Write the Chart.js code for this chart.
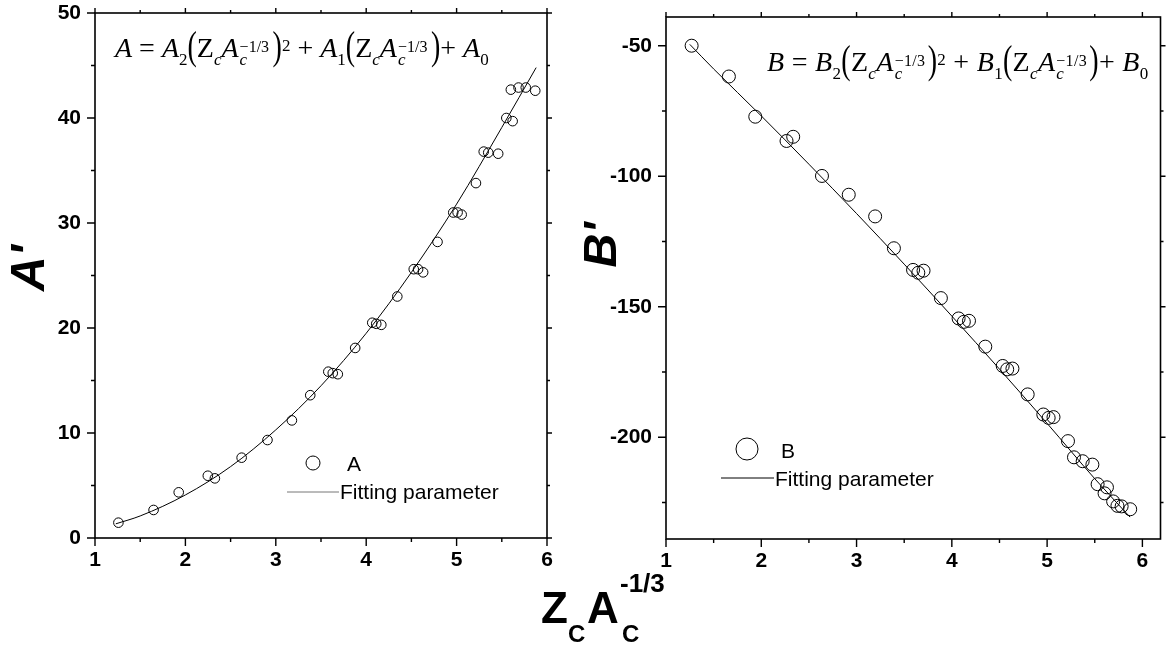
<!DOCTYPE html>
<html>
<head>
<meta charset="utf-8">
<script src="https://cdn.jsdelivr.net/npm/chart.js@4.4.0/dist/chart.umd.min.js"></script>
<style>
  body { margin: 0; background: #fff; width: 1168px; height: 651px; overflow: hidden; position: relative; }
  canvas { position: absolute; left: 0; top: 0; }
  .eq { position: absolute; z-index: 2; font-family: "Times New Roman", "Liberation Serif", serif; font-size: 28px; line-height: 28px; white-space: nowrap; color: #000; }
  .eq .sb { font-size: 17px; line-height: 0; position: relative; top: 8px; }
  .eq .sp { font-size: 17px; line-height: 0; position: relative; top: -6px; }
  .eq .pr { display: inline-block; transform: scaleY(1.42); transform-origin: 50% 62%; }
  .eq .ss { display: inline-block; position: relative; width: 34px; height: 1px; }
  .eq .ss .u { position: absolute; left: 1px; top: -17px; font-size: 16px; line-height: 16px; }
  .eq .ss .d { position: absolute; left: 1px; top: -5px; font-size: 17px; line-height: 17px; }
  #eqB { letter-spacing: 0.3px; }
  .xt { position: absolute; z-index: 2; font-family: Arial, "Liberation Sans", sans-serif; font-weight: bold; line-height: 1; color: #000; white-space: nowrap; }
</style>
</head>
<body>
<canvas id="chartA" width="1168" height="651"></canvas>
<canvas id="chartB" width="1168" height="651"></canvas>
<div class="eq" id="eqA" style="left:115px; top:34px;"></div>
<div class="eq" id="eqB" style="left:767px; top:48px;"></div>
<span class="xt" style="left:541px; top:586px; font-size:44px;">Z</span>
<span class="xt" style="left:568px; top:622px; font-size:24px;">C</span>
<span class="xt" style="left:587px; top:586px; font-size:44px;">A</span>
<span class="xt" style="left:622px; top:622px; font-size:24px;">C</span>
<span class="xt" style="left:620px; top:570px; font-size:26px;">-1/3</span>
<script>
// ZcAc^-1/3 значения (x) ба A', B' утгууд
const zA = [1.259, 1.648, 1.926, 2.248, 2.326, 2.622, 2.908, 3.178, 3.381, 3.581, 3.63, 3.686, 3.878,
            4.067, 4.111, 4.167, 4.344, 4.526, 4.574, 4.63, 4.789, 4.963, 5.011, 5.056, 5.214,
            5.30, 5.35, 5.46, 5.55, 5.62, 5.60, 5.685, 5.765, 5.87];
const valuesA = [1.46, 2.67, 4.35, 5.93, 5.68, 7.65, 9.33, 11.2, 13.6, 15.84, 15.7, 15.6, 18.1,
            20.5, 20.4, 20.3, 23.0, 25.6, 25.6, 25.3, 28.2, 31.0, 31.0, 30.8, 33.8,
            36.8, 36.7, 36.6, 40.0, 39.7, 42.7, 42.9, 42.9, 42.6];

const zB = [1.269, 1.66, 1.937, 2.265, 2.335, 2.637, 2.918, 3.195, 3.392, 3.593, 3.648, 3.703, 3.885,
            4.071, 4.126, 4.18, 4.351, 4.534, 4.581, 4.636, 4.796, 4.96, 5.016, 5.067, 5.219,
            5.282, 5.373, 5.475, 5.53, 5.628, 5.603, 5.693, 5.738, 5.782, 5.872];
const valuesB = [-50.0, -61.8, -77.2, -86.5, -84.9, -99.9, -107.1, -115.4, -127.6, -135.9, -137.0, -136.2, -146.7,
            -154.5, -155.8, -155.4, -165.3, -172.7, -174.0, -173.7, -183.6, -191.3, -192.6, -192.3, -201.5,
            -207.7, -209.2, -210.5, -218.0, -219.2, -221.5, -224.6, -226.3, -226.5, -227.6];

// Fitting шугам (зурагнаас уншсан)
const fitZA = [1.23, 1.5, 2, 2.5, 3, 3.5, 4, 4.5, 5, 5.5, 5.88];
const fitA = [1.35, 2.1, 4.1, 6.8, 10.3, 14.5, 19.5, 25.3, 31.8, 39.1, 44.8];
const fitZB = [1.25, 1.5, 2, 2.5, 3, 3.5, 4, 4.5, 5, 5.5, 5.87];
const fitB = [-49.5, -58.9, -76.9, -95.4, -114.3, -133.7, -153.6, -173.9, -194.7, -215.9, -230.6];

// Тэнхлэгийн tick-үүд
const xTicks = [1, 2, 3, 4, 5, 6];
const yTicksA = [0, 10, 20, 30, 40, 50];
const yTicksB = [-200, -150, -100, -50];

const pairs = (xs, ys) => xs.map((x, i) => ({ x, y: ys[i] }));

// Формулын текст
function eqHTML(L) {
    const zc = 'Z<span class="sb"><i>c</i></span><i>A</i><span class="ss"><span class="u">&minus;1/3</span><span class="d"><i>c</i></span></span>';
    return `<i>${L}</i> = <i>${L}</i><span class="sb">2</span><span class="pr">(</span>${zc}<span class="pr">)</span><span class="sp">2</span> + ` +
           `<i>${L}</i><span class="sb">1</span><span class="pr">(</span>${zc}<span class="pr">)</span>+ <i>${L}</i><span class="sb">0</span>`;
}
document.getElementById('eqA').innerHTML = eqHTML('A');
document.getElementById('eqB').innerHTML = eqHTML('B');

// Хүрээ, жижиг tick, тэнхлэгийн нэр, legend зурах plugin
const framePlugin = {
    id: 'frame',
    afterDraw(chart, args, o) {
        const { ctx, chartArea: a } = chart;
        const xs = chart.scales.x, ys = chart.scales.y;
        ctx.save();
        ctx.strokeStyle = '#000';
        ctx.lineWidth = 1.6;
        ctx.strokeRect(a.left, a.top, a.right - a.left, a.bottom - a.top);

        const withMinor = (arr, s) => {
            const step = arr[1] - arr[0];
            const out = [];
            for (let v = arr[0] - step / 2; v <= s.max + 1e-9; v += step / 2) {
                if (v >= s.min - 1e-9) out.push({ v, major: arr.some(m => Math.abs(m - v) < 1e-6) });
            }
            return out;
        };
        ctx.lineWidth = 1.4;
        ctx.beginPath();
        withMinor(o.xTicks, xs).forEach(t => {
            const px = xs.getPixelForValue(t.v);
            const len = t.major ? 8 : 4;
            ctx.moveTo(px, a.bottom); ctx.lineTo(px, a.bottom + len);
            ctx.moveTo(px, a.top); ctx.lineTo(px, a.top - (t.major ? 5 : 3));
        });
        withMinor(o.yTicks, ys).forEach(t => {
            const py = ys.getPixelForValue(t.v);
            const len = t.major ? 8 : 4;
            ctx.moveTo(a.left - len, py); ctx.lineTo(a.left, py);
            ctx.moveTo(a.right, py); ctx.lineTo(a.right + (t.major ? 5 : 3), py);
        });
        ctx.stroke();

        // y тэнхлэгийн нэр
        ctx.fillStyle = '#000';
        ctx.font = o.yTitle.font;
        ctx.textAlign = 'center';
        ctx.textBaseline = 'middle';
        ctx.save();
        ctx.translate(o.yTitle.x, o.yTitle.y);
        ctx.rotate(-Math.PI / 2);
        ctx.fillText(o.yTitle.text, 0, 0);
        ctx.restore();

        // legend
        const lg = o.legend;
        const ds = chart.data.datasets;
        ctx.lineWidth = 1;
        ctx.beginPath();
        ctx.arc(lg.markerX, lg.markerY, lg.markerR, 0, Math.PI * 2);
        ctx.stroke();
        ctx.strokeStyle = lg.lineColor;
        ctx.beginPath();
        ctx.moveTo(lg.lineX1, lg.lineY); ctx.lineTo(lg.lineX2, lg.lineY);
        ctx.stroke();
        ctx.font = '21px Arial, "Liberation Sans", sans-serif';
        ctx.textAlign = 'left';
        ctx.textBaseline = 'alphabetic';
        ctx.fillText(ds[0].label, lg.text1X, lg.text1Y);
        ctx.fillText(ds[1].label, lg.lineX2 + 1, lg.text2Y);
        ctx.restore();
    }
};

const tickFont = { family: 'Arial, "Liberation Sans", sans-serif', size: 21, weight: 'bold' };

function makePanel(id, pts, fit, cfg) {
    return new Chart(document.getElementById(id), {
        type: 'scatter',
        data: {
            datasets: [
                {
                    label: cfg.label,
                    data: pts,
                    showLine: false,
                    pointStyle: 'circle',
                    pointRadius: cfg.pointR,
                    pointBorderWidth: 1,
                    borderColor: '#000',
                    backgroundColor: 'rgba(0,0,0,0)'
                },
                {
                    label: 'Fitting parameter',
                    data: fit,
                    showLine: true,
                    pointRadius: 0,
                    borderColor: '#000',
                    borderWidth: 1,
                    cubicInterpolationMode: 'monotone'
                }
            ]
        },
        options: {
            responsive: false,
            animation: false,
            devicePixelRatio: 1,
            layout: { padding: cfg.padding },
            scales: {
                x: {
                    type: 'linear',
                    min: 1, max: cfg.xMax,
                    grid: { display: false, drawTicks: false },
                    border: { display: false },
                    afterBuildTicks: s => { s.ticks = xTicks.map(v => ({ value: v })); },
                    afterFit: s => { s.height = 40; s.paddingLeft = 0; s.paddingRight = 0; },
                    ticks: { color: '#000', padding: 10, maxRotation: 0, font: tickFont }
                },
                y: {
                    type: 'linear',
                    min: cfg.yMin, max: cfg.yMax,
                    grid: { display: false, drawTicks: false },
                    border: { display: false },
                    afterBuildTicks: s => { s.ticks = cfg.yTicks.map(v => ({ value: v })); },
                    afterFit: s => { s.width = cfg.yWidth; s.paddingTop = 0; s.paddingBottom = 0; },
                    ticks: { color: '#000', padding: 14, font: tickFont }
                }
            },
            plugins: {
                legend: { display: false },
                tooltip: { enabled: false },
                frame: {
                    xTicks: xTicks,
                    yTicks: cfg.yTicks,
                    yTitle: cfg.yTitle,
                    legend: cfg.legend
                }
            }
        },
        plugins: [framePlugin]
    });
}

makePanel('chartA', pairs(zA, valuesA), pairs(fitZA, fitA), {
    label: 'A',
    pointR: 4.8,
    xMax: 6,
    yMin: 0, yMax: 50,
    yTicks: yTicksA,
    yWidth: 95,
    padding: { left: 0, top: 13, right: 621, bottom: 73 },
    yTitle: { text: "A'", x: 31, y: 268, font: 'italic bold 48px Arial, "Liberation Sans", sans-serif' },
    legend: { markerX: 313, markerY: 463, markerR: 7, text1X: 347, text1Y: 471,
              lineX1: 287, lineX2: 339, lineY: 492, lineColor: '#777', text2Y: 499 }
});

makePanel('chartB', pairs(zB, valuesB), pairs(fitZB, fitB), {
    label: 'B',
    pointR: 6.5,
    xMax: 6.19,
    yMin: -239, yMax: -39,
    yTicks: yTicksB,
    yWidth: 80,
    padding: { left: 586, top: 17, right: 2, bottom: 72 },
    yTitle: { text: "B'", x: 603, y: 245, font: 'italic bold 47px Arial, "Liberation Sans", sans-serif' },
    legend: { markerX: 747, markerY: 449, markerR: 11, text1X: 781, text1Y: 458,
              lineX1: 721, lineX2: 774, lineY: 478, lineColor: '#000', text2Y: 486 }
});
</script>
</body>
</html>
